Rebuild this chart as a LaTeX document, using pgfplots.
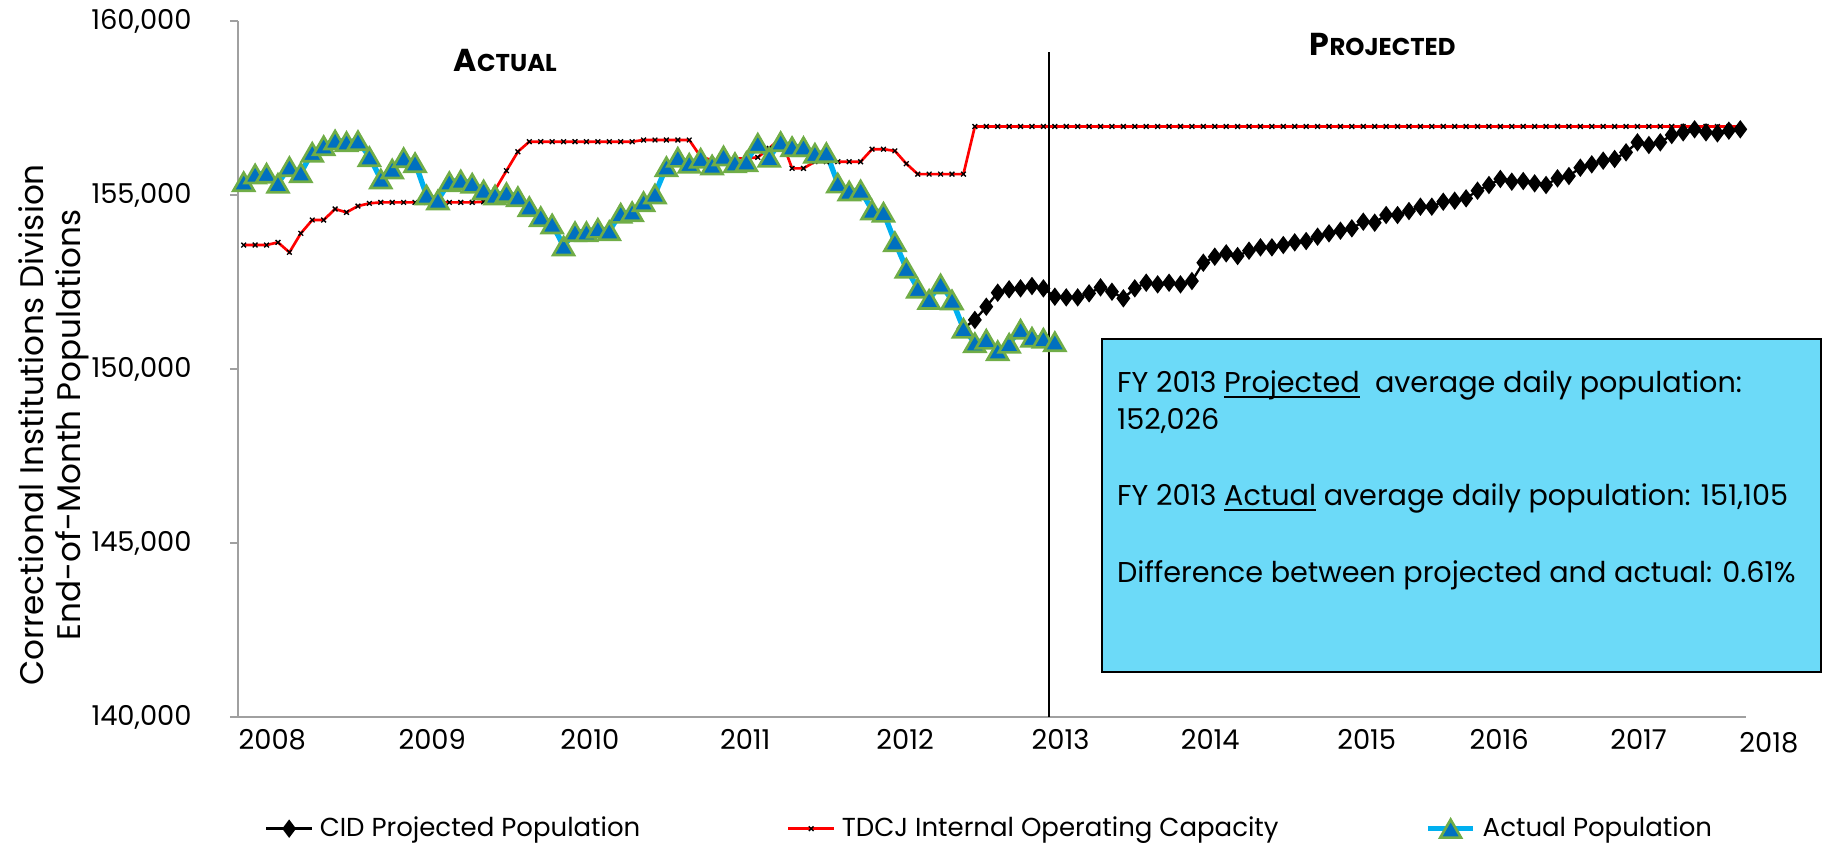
\documentclass[border=0pt]{standalone}
\usepackage{fontspec}
\setmainfont{Poppins}
\usepackage{pgfplots}
\usepackage{pgfplotstable}
\pgfplotsset{compat=1.18}

\definecolor{capred}{RGB}{255,0,0}
\definecolor{actline}{RGB}{0,176,240}
\definecolor{actfill}{RGB}{0,112,192}
\definecolor{actedge}{RGB}{112,173,71}
\definecolor{boxfill}{RGB}{108,218,248}
\definecolor{axgray}{RGB}{160,160,160}

% underline close to the baseline, as in the source
\newcommand{\ul}[1]{\setbox0\hbox{#1}\rlap{\rule[-1.8pt]{\wd0}{0.5pt}}#1}

% month index 0 = first month shown, one row per month
\pgfplotstableread{
i pop
0 155381
1 155603
2 155623
3 155335
4 155813
5 155640
6 156226
7 156416
8 156580
9 156532
10 156560
11 156100
12 155459
13 155746
14 156071
15 155928
16 155000
17 154856
18 155381
19 155430
20 155335
21 155143
22 155000
23 155066
24 154951
25 154664
26 154376
27 154166
28 153533
29 153944
30 153944
31 154042
32 153973
33 154473
34 154519
35 154807
36 155028
37 155813
38 156082
39 155910
40 156054
41 155861
42 156120
43 155928
44 155956
45 156485
46 156082
47 156532
48 156388
49 156388
50 156198
51 156215
52 155340
53 155114
54 155143
55 154568
56 154501
57 153657
58 152893
59 152318
60 151998
61 152441
62 151982
63 151168
64 150754
65 150852
66 150525
67 150737
68 151140
69 150910
70 150881
71 150783
}\actual

\pgfplotstableread{
i pop
0 153562
1 153562
2 153562
3 153639
4 153352
5 153898
6 154281
7 154281
8 154597
9 154501
10 154683
11 154760
12 154788
13 154788
14 154788
15 154788
16 154788
17 154788
18 154788
19 154788
20 154788
21 154807
22 155143
23 155698
24 156244
25 156532
26 156532
27 156532
28 156532
29 156532
30 156532
31 156532
32 156532
33 156532
34 156532
35 156580
36 156580
37 156580
38 156580
39 156580
40 156100
41 156000
42 156000
43 156050
44 156054
45 156082
46 156341
47 156640
48 155766
49 155766
50 155957
51 155957
52 155957
53 155957
54 155957
55 156315
56 156315
57 156268
58 155900
59 155600
60 155600
61 155600
62 155600
63 155600
64 156970
65 156970
66 156970
67 156970
68 156970
69 156970
70 156970
71 156970
72 156970
73 156970
74 156970
75 156970
76 156970
77 156970
78 156970
79 156970
80 156970
81 156970
82 156970
83 156970
84 156970
85 156970
86 156970
87 156970
88 156970
89 156970
90 156970
91 156970
92 156970
93 156970
94 156970
95 156970
96 156970
97 156970
98 156970
99 156970
100 156970
101 156970
102 156970
103 156970
104 156970
105 156970
106 156970
107 156970
108 156970
109 156970
110 156970
111 156970
112 156970
113 156970
114 156970
115 156970
116 156970
117 156970
118 156970
119 156970
120 156970
121 156970
122 156970
123 156970
124 156970
125 156970
126 156970
127 156970
128 156970
129 156970
130 156970
131 156970
}\capacity

\pgfplotstableread{
i pop
63 151168
64 151410
65 151789
66 152192
67 152289
68 152317
69 152384
70 152317
71 152077
72 152058
73 152058
74 152174
75 152346
76 152220
77 152030
78 152317
79 152479
80 152432
81 152479
82 152432
83 152528
84 153054
85 153227
86 153323
87 153246
88 153399
89 153495
90 153495
91 153562
92 153639
93 153677
94 153802
95 153898
96 153974
97 154041
98 154233
99 154204
100 154424
101 154424
102 154539
103 154664
104 154664
105 154807
106 154836
107 154904
108 155123
109 155287
110 155459
111 155382
112 155402
113 155335
114 155287
115 155479
116 155545
117 155784
118 155881
119 155986
120 156034
121 156226
122 156513
123 156436
124 156513
125 156724
126 156800
127 156887
128 156800
129 156772
130 156848
131 156887
}\projected

\begin{document}
\begin{tikzpicture}
\useasboundingbox (-71.4pt,-39pt) rectangle (475.5pt,215.1pt);
\begin{axis}[
    at={(0,0)}, anchor=south west,
    scale only axis, width=452.4pt, height=208.8pt,
    xmin=-0.5, xmax=131.5, ymin=140000, ymax=160000,
    axis x line*=bottom, axis y line*=left,
    axis line style={axgray, line width=0.8pt, -},
    clip=false,
    xtick={2.5,16.5,30.3,43.9,57.9,71.5,84.6,98.3,109.9,122.1},
    xticklabels={2008,2009,2010,2011,2012,2013,2014,2015,2016,2017},
    x tick style={draw=none},
    xticklabel style={yshift=2.1pt},
    ytick={140000,145000,150000,155000,160000},
    y tick style={axgray, line width=0.8pt},
    tick align=outside, major tick length=2.4pt,
    scaled y ticks=false,
    /pgf/number format/assume math mode=true,
    /pgf/number format/fixed,
    /pgf/number format/1000 sep={,},
    yticklabel style={xshift=-8pt},
    tick label style={font=\fontsize{8.2}{9}\selectfont},
    legend columns=3,
    legend style={at={(0.5,0)}, anchor=center, yshift=-33.5pt, draw=none, fill=none,
        font=\fontsize{7.8}{9}\selectfont,
        /tikz/every even column/.append style={column sep=42pt}},
    legend image code/.code={\draw[mark repeat=2, mark phase=2]
        plot coordinates {(0cm,0cm) (0.24cm,0cm) (0.48cm,0cm)};},
]
\addplot[black, line width=0.7pt, mark=diamond*, mark size=2.2pt,
    mark options={fill=black}] table[x=i, y=pop] {\projected};
\addplot[capred, line width=0.8pt, mark=x, mark size=1pt,
    mark options={black, line width=0.4pt}] table[x=i, y=pop] {\capacity};
\addplot[actline, line width=1.6pt, mark=triangle*, mark size=3.6pt,
    mark options={fill=actfill, draw=actedge, line width=0.8pt, yshift=-0.9pt}]
    table[x=i, y=pop] {\actual};
\legend{CID Projected Population, TDCJ Internal Operating Capacity, Actual Population}

\draw[black, line width=0.6pt] (axis cs:70.5,140000) -- (axis cs:70.5,159109);
\node[anchor=north, font=\fontsize{8.2}{9}\selectfont, yshift=-1pt] at (axis cs:133.5,140000) {2018};

\node[font=\bfseries] at (axis cs:22.9,158879)
    {\fontsize{9.5}{10}\selectfont A\fontsize{7.3}{8}\selectfont CTUAL};
\node[font=\bfseries] at (axis cs:99.7,159339)
    {\fontsize{9.5}{10}\selectfont P\fontsize{7.3}{8}\selectfont ROJECTED};

\node[rotate=90, align=center, font=\fontsize{9.8}{11.1}\selectfont]
    at ([xshift=-55.35pt]rel axis cs:0,0.4195)
    {Correctional Institutions Division\\End-of-Month Populations};

\draw[fill=boxfill, line width=0.6pt] (axis cs:75.1,150861) rectangle (axis cs:138.1,141290);
\begin{scope}[every node/.style={anchor=west, inner sep=0pt, font=\fontsize{8.6}{10}\selectfont}]
\node at (axis cs:76.4,149539) {FY 2013 \ul{Projected}\ \ average daily population:};
\node at (axis cs:76.4,148504) {152,026};
\node at (axis cs:76.4,146291) {FY 2013 \ul{Actual} average daily population: 151,105};
\node at (axis cs:76.4,144078) {Difference between projected and actual: 0.61\%};
\end{scope}
\end{axis}
\end{tikzpicture}
\end{document}
